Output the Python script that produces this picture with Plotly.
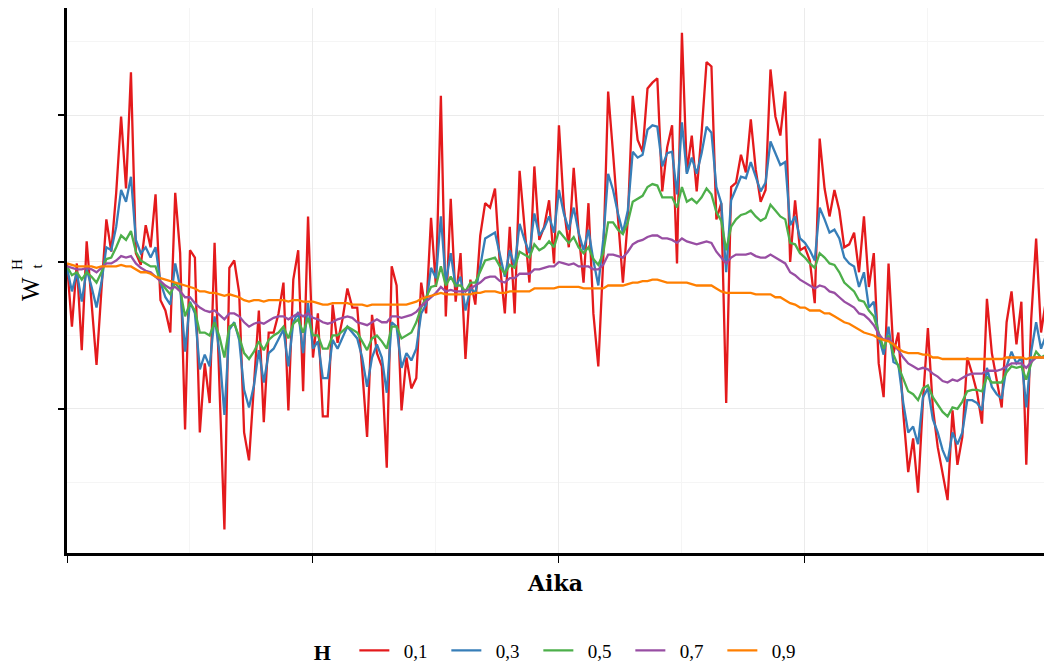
import plotly.graph_objects as go

# Simulated fractional Brownian motion paths W_t^H for five Hurst indices
t = list(range(200))

h_01 = [-0.01, -0.44, -0.01, -0.60, 0.14, -0.28, -0.70, -0.19, 0.29, 0.07,
        0.47, 0.99, 0.50, 1.29, 0.06, -0.02, 0.25, 0.10, 0.46, -0.26,
        -0.33, -0.48, 0.47, 0.06, -1.14, 0.08, 0.03, -1.16, -0.69, -0.96,
        0.13, -0.85, -1.82, -0.04, 0.01, -0.21, -1.16, -1.35, -0.85, -0.33,
        -1.09, -0.48, -0.48, -0.35, -0.14, -1.01, -0.12, 0.08, -0.88, 0.31,
        -0.65, -0.35, -1.05, -1.05, -0.29, -0.55, -0.39, -0.18, -0.31, -0.31,
        -0.73, -1.19, -0.36, -0.62, -0.71, -1.40, -0.03, -0.16, -1.01, -0.65,
        -0.86, -0.79, -0.14, -0.35, 0.30, -0.17, 1.13, -0.37, 0.43, -0.27,
        0.06, -0.66, -0.12, -0.29, 0.18, 0.40, 0.37, 0.50, -0.02, -0.35,
        0.24, -0.35, 0.62, 0.24, -0.14, 0.65, 0.15, 0.24, 0.42, -0.01,
        0.93, 0.37, 0.10, 0.64, 0.20, -0.14, 0.40, -0.35, -0.71, 0.01,
        1.16, 0.74, 0.27, -0.14, 0.29, 1.13, 0.83, 0.75, 1.18, 1.22,
        1.25, 0.48, 0.78, 0.93, -0.01, 1.56, 0.61, 0.86, 0.48, 0.88,
        1.36, 1.33, 0.29, 0.40, -0.96, 0.51, 0.54, 0.73, 0.61, 0.97,
        0.63, 0.41, 0.49, 1.31, 0.99, 0.86, 1.16, 0.00, 0.42, 0.08,
        0.10, 0.01, -0.28, 0.84, 0.50, 0.31, 0.49, 0.35, 0.10, 0.12,
        0.20, -0.07, 0.31, -0.17, 0.06, -0.69, -0.92, -0.01, -0.62, -0.48,
        -1.03, -1.43, -1.20, -1.57, -0.94, -0.45, -0.99, -1.26, -1.44, -1.62,
        -1.01, -1.38, -1.19, -0.65, -0.76, -0.89, -1.10, -0.25, -0.62, -0.80,
        -0.99, -0.41, -0.20, -0.56, -0.27, -1.38, -0.39, 0.16, -0.48, -0.26]

h_03 = [-0.04, -0.20, -0.07, -0.27, -0.05, -0.17, -0.31, -0.14, 0.10, 0.08,
        0.24, 0.49, 0.41, 0.58, 0.15, 0.06, 0.10, 0.03, 0.10, -0.14,
        -0.24, -0.29, -0.01, -0.17, -0.61, -0.27, -0.35, -0.73, -0.63, -0.71,
        -0.37, -0.62, -1.04, -0.46, -0.41, -0.53, -0.87, -0.99, -0.84, -0.60,
        -0.82, -0.62, -0.59, -0.53, -0.46, -0.71, -0.41, -0.34, -0.62, -0.28,
        -0.59, -0.54, -0.79, -0.79, -0.53, -0.59, -0.51, -0.44, -0.48, -0.52,
        -0.65, -0.85, -0.65, -0.56, -0.65, -0.89, -0.41, -0.44, -0.72, -0.62,
        -0.67, -0.59, -0.35, -0.29, -0.04, -0.11, 0.31, -0.14, 0.06, -0.17,
        -0.10, -0.33, -0.18, -0.21, -0.03, 0.16, 0.18, 0.20, 0.05, -0.10,
        0.08, -0.03, 0.26, 0.15, 0.06, 0.33, 0.18, 0.23, 0.31, 0.20,
        0.49, 0.33, 0.22, 0.37, 0.20, 0.08, 0.22, 0.01, -0.16, 0.15,
        0.60, 0.49, 0.33, 0.20, 0.35, 0.75, 0.71, 0.73, 0.90, 0.93,
        0.92, 0.65, 0.74, 0.75, 0.46, 0.95, 0.60, 0.71, 0.60, 0.74,
        0.92, 0.88, 0.51, 0.40, -0.07, 0.42, 0.50, 0.58, 0.57, 0.68,
        0.58, 0.48, 0.54, 0.82, 0.74, 0.66, 0.68, 0.25, 0.31, 0.16,
        0.13, 0.08, 0.01, 0.37, 0.29, 0.20, 0.22, 0.16, 0.03, -0.01,
        -0.03, -0.17, -0.07, -0.31, -0.27, -0.51, -0.63, -0.44, -0.68, -0.70,
        -0.96, -1.16, -1.12, -1.24, -0.92, -0.86, -1.07, -1.16, -1.28, -1.36,
        -1.16, -1.24, -1.16, -0.94, -0.94, -0.96, -1.01, -0.72, -0.85, -0.90,
        -0.93, -0.71, -0.61, -0.69, -0.65, -0.99, -0.61, -0.41, -0.59, -0.50]

h_05 = [-0.03, -0.09, -0.07, -0.12, -0.07, -0.10, -0.14, -0.07, 0.02, 0.03,
        0.10, 0.18, 0.15, 0.21, 0.07, 0.01, -0.01, -0.03, -0.03, -0.14,
        -0.18, -0.22, -0.14, -0.19, -0.37, -0.28, -0.33, -0.48, -0.48, -0.50,
        -0.41, -0.51, -0.65, -0.44, -0.42, -0.51, -0.62, -0.66, -0.61, -0.54,
        -0.60, -0.53, -0.50, -0.48, -0.44, -0.52, -0.42, -0.39, -0.48, -0.38,
        -0.50, -0.50, -0.59, -0.59, -0.50, -0.50, -0.47, -0.44, -0.46, -0.48,
        -0.54, -0.60, -0.52, -0.50, -0.54, -0.59, -0.44, -0.44, -0.52, -0.50,
        -0.48, -0.41, -0.31, -0.24, -0.17, -0.16, -0.03, -0.16, -0.10, -0.16,
        -0.16, -0.20, -0.14, -0.14, -0.07, 0.01, 0.02, 0.03, -0.03, -0.08,
        -0.02, -0.04, 0.07, 0.05, 0.03, 0.12, 0.08, 0.10, 0.14, 0.10,
        0.21, 0.17, 0.13, 0.17, 0.10, 0.06, 0.10, 0.02, -0.02, 0.06,
        0.27, 0.27, 0.22, 0.19, 0.27, 0.41, 0.43, 0.45, 0.51, 0.53,
        0.52, 0.44, 0.44, 0.44, 0.37, 0.51, 0.41, 0.43, 0.40, 0.44,
        0.50, 0.46, 0.34, 0.28, 0.08, 0.24, 0.29, 0.32, 0.33, 0.35,
        0.31, 0.28, 0.30, 0.39, 0.35, 0.31, 0.29, 0.13, 0.12, 0.06,
        0.03, -0.01, -0.04, 0.06, 0.03, -0.01, -0.02, -0.07, -0.14, -0.17,
        -0.20, -0.26, -0.27, -0.33, -0.37, -0.48, -0.59, -0.50, -0.63, -0.71,
        -0.80, -0.88, -0.90, -0.94, -0.86, -0.84, -0.92, -0.97, -1.02, -1.05,
        -0.99, -1.00, -0.95, -0.88, -0.87, -0.87, -0.88, -0.78, -0.82, -0.82,
        -0.82, -0.75, -0.71, -0.72, -0.71, -0.80, -0.69, -0.61, -0.65, -0.63]

h_07 = [-0.03, -0.04, -0.05, -0.05, -0.04, -0.05, -0.07, -0.04, -0.01, -0.01,
        0.01, 0.04, 0.03, 0.04, -0.01, -0.04, -0.06, -0.07, -0.10, -0.13,
        -0.16, -0.18, -0.17, -0.20, -0.24, -0.24, -0.28, -0.31, -0.33, -0.34,
        -0.33, -0.36, -0.39, -0.35, -0.35, -0.37, -0.41, -0.44, -0.42, -0.41,
        -0.42, -0.40, -0.38, -0.37, -0.37, -0.39, -0.37, -0.35, -0.37, -0.35,
        -0.38, -0.39, -0.41, -0.42, -0.41, -0.39, -0.38, -0.37, -0.38, -0.41,
        -0.42, -0.43, -0.41, -0.39, -0.41, -0.41, -0.37, -0.37, -0.38, -0.37,
        -0.36, -0.34, -0.30, -0.27, -0.24, -0.21, -0.17, -0.20, -0.19, -0.20,
        -0.20, -0.20, -0.18, -0.16, -0.14, -0.11, -0.10, -0.10, -0.13, -0.14,
        -0.11, -0.11, -0.08, -0.08, -0.08, -0.05, -0.05, -0.04, -0.03, -0.03,
        0.00, -0.01, -0.02, -0.01, -0.03, -0.03, -0.03, -0.05, -0.05, -0.02,
        0.05, 0.05, 0.04, 0.03, 0.07, 0.12, 0.14, 0.15, 0.17, 0.18,
        0.18, 0.16, 0.16, 0.15, 0.13, 0.16, 0.14, 0.13, 0.12, 0.13,
        0.14, 0.13, 0.07, 0.03, -0.01, 0.03, 0.05, 0.05, 0.05, 0.06,
        0.04, 0.03, 0.03, 0.05, 0.03, 0.01, -0.01, -0.07, -0.09, -0.12,
        -0.14, -0.16, -0.18, -0.16, -0.17, -0.20, -0.21, -0.24, -0.27, -0.29,
        -0.31, -0.35, -0.36, -0.39, -0.43, -0.49, -0.53, -0.52, -0.56, -0.60,
        -0.65, -0.69, -0.71, -0.73, -0.72, -0.73, -0.76, -0.78, -0.81, -0.82,
        -0.80, -0.81, -0.79, -0.77, -0.76, -0.76, -0.76, -0.74, -0.74, -0.74,
        -0.73, -0.71, -0.69, -0.69, -0.69, -0.72, -0.68, -0.65, -0.65, -0.65]

h_09 = [-0.01, -0.02, -0.03, -0.03, -0.03, -0.03, -0.04, -0.03, -0.03, -0.03,
        -0.03, -0.02, -0.03, -0.03, -0.05, -0.07, -0.07, -0.08, -0.10, -0.11,
        -0.12, -0.13, -0.14, -0.15, -0.16, -0.17, -0.18, -0.20, -0.20, -0.21,
        -0.21, -0.22, -0.23, -0.22, -0.23, -0.24, -0.26, -0.27, -0.26, -0.26,
        -0.27, -0.26, -0.26, -0.26, -0.26, -0.27, -0.26, -0.26, -0.27, -0.27,
        -0.27, -0.28, -0.29, -0.29, -0.28, -0.28, -0.28, -0.28, -0.29, -0.29,
        -0.29, -0.30, -0.29, -0.29, -0.29, -0.29, -0.29, -0.29, -0.29, -0.29,
        -0.28, -0.27, -0.25, -0.24, -0.23, -0.22, -0.21, -0.22, -0.22, -0.22,
        -0.22, -0.22, -0.22, -0.21, -0.21, -0.20, -0.20, -0.20, -0.21, -0.21,
        -0.20, -0.20, -0.20, -0.20, -0.20, -0.18, -0.18, -0.18, -0.18, -0.18,
        -0.17, -0.17, -0.17, -0.17, -0.17, -0.18, -0.18, -0.18, -0.18, -0.18,
        -0.16, -0.16, -0.16, -0.16, -0.15, -0.14, -0.14, -0.13, -0.13, -0.12,
        -0.12, -0.13, -0.14, -0.14, -0.14, -0.14, -0.14, -0.15, -0.16, -0.16,
        -0.16, -0.16, -0.18, -0.20, -0.21, -0.21, -0.21, -0.21, -0.21, -0.21,
        -0.22, -0.22, -0.22, -0.22, -0.24, -0.24, -0.26, -0.28, -0.29, -0.31,
        -0.31, -0.33, -0.33, -0.33, -0.35, -0.35, -0.37, -0.39, -0.41, -0.42,
        -0.44, -0.46, -0.48, -0.49, -0.50, -0.52, -0.53, -0.54, -0.56, -0.59,
        -0.61, -0.62, -0.62, -0.62, -0.63, -0.63, -0.65, -0.65, -0.66, -0.66,
        -0.66, -0.66, -0.66, -0.66, -0.66, -0.66, -0.66, -0.66, -0.66, -0.66,
        -0.66, -0.65, -0.65, -0.65, -0.65, -0.66, -0.65, -0.65, -0.65, -0.65]

hurst_labels = ["0,1", "0,3", "0,5", "0,7", "0,9"]
series = [h_01, h_03, h_05, h_07, h_09]
colors = ["#E41A1C", "#377EB8", "#4DAF4A", "#984EA3", "#FF7F00"]

x_ticks = [0, 50, 100, 150]
x_minor = [25, 75, 125, 175]
y_ticks = [-1, 0, 1]
y_minor = [-1.5, -0.5, 0.5, 1.5]

SERIF = "Liberation Serif, DejaVu Serif, serif"

fig = go.Figure()
for label, values, color in zip(hurst_labels, series, colors):
    fig.add_trace(go.Scatter(
        x=t, y=values, mode="lines", name="\u2002" + label,
        line=dict(color=color, width=2.3),
    ))

fig.update_layout(
    width=1044, height=666,
    margin=dict(l=67, r=0, t=8, b=113, autoexpand=False),
    plot_bgcolor="white", paper_bgcolor="white",
    font=dict(family=SERIF, color="black", size=19),
    showlegend=True,
    legend=dict(
        orientation="h", x=0.508, xanchor="center", y=-0.18, yanchor="middle",
        title=dict(text="<b>H</b>\u2002\u2009", side="left", font=dict(size=22)),
        font=dict(size=19), entrywidth=47, entrywidthmode="pixels",
        traceorder="normal",
    ),
)

fig.update_xaxes(
    range=[0, 198.6], tickvals=x_ticks, showticklabels=False,
    ticks="outside", ticklen=7, tickwidth=1, tickcolor="black",
    showline=True, linecolor="black", linewidth=2.5,
    showgrid=True, gridcolor="#ebebeb", gridwidth=1.1, zeroline=False,
    minor=dict(tickvals=x_minor, showgrid=True, gridcolor="#f5f5f5", gridwidth=0.6, ticks=""),
    title=dict(text="<b>Aika</b>", font=dict(family="DejaVu Serif, serif", size=22), standoff=14),
)
fig.update_yaxes(
    range=[-1.98, 1.728], tickvals=y_ticks, showticklabels=False,
    ticks="outside", ticklen=6, tickwidth=1.5, tickcolor="black",
    showline=True, linecolor="black", linewidth=2.5,
    showgrid=True, gridcolor="#ebebeb", gridwidth=1.1, zeroline=False,
    minor=dict(tickvals=y_minor, showgrid=True, gridcolor="#f5f5f5", gridwidth=0.6, ticks=""),
)

# Axis label W_t^H built from stacked pieces so the super- and subscript sit on top of each other
label_parts = [("W", 30, -0.184, 25), ("H", 17, -0.02, 15), ("t", 37, -0.03, 15)]
for txt, px, yv, size in label_parts:
    fig.add_annotation(text=txt, textangle=-90, xref="paper", yref="y",
                       x=(px - 67) / 977, y=yv, xanchor="center", yanchor="middle",
                       showarrow=False, font=dict(family=SERIF, size=size))

fig.write_html("out.html")
